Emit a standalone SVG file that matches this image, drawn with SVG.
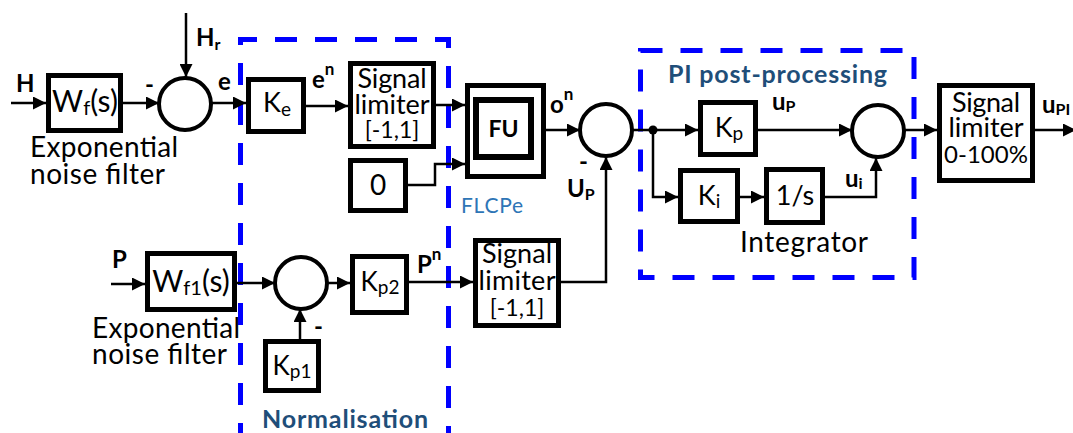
<svg xmlns="http://www.w3.org/2000/svg" width="1073" height="433" viewBox="0 0 1073 433">
<defs>
<marker id="ah" viewBox="0 0 10 10" refX="10" refY="5" markerWidth="13" markerHeight="13" markerUnits="userSpaceOnUse" orient="auto">
<path d="M0,0 L10,5 L0,10 z" fill="#000"/>
</marker>
<style>
.box{fill:#fff;stroke:#000;stroke-width:5}
.sum{fill:#fff;stroke:#000;stroke-width:4}
.ln{fill:none;stroke:#000;stroke-width:2.5}
.arr{marker-end:url(#ah)}
.dash{fill:none;stroke:#0000FF;stroke-width:5;stroke-dasharray:22 18}
text{font-family:Lato,"Open Sans","Liberation Sans",sans-serif;fill:#000}
.t{font-size:27px}
.x{font-size:28px}
.c{text-anchor:middle}
.b{font-weight:bold;font-size:24px}
.hd{font-weight:bold;font-size:25px;fill:#1F4E79}
</style>
</defs>
<rect width="1073" height="433" fill="#fff"/>

<g id="regions">
<path class="dash" d="M240.5,445 L240.5,39.5 L448.5,39.5 L448.5,445"/>
<rect class="dash" x="640.5" y="50.5" width="273.5" height="227"/>
</g>

<g id="connectors">
<path class="ln arr" d="M11,103 L46,103"/>
<path class="ln arr" d="M123,103 L159,103"/>
<path class="ln arr" d="M186,13 L186,77"/>
<path class="ln arr" d="M211,103 L246,103"/>
<path class="ln arr" d="M306,106 L348,106"/>
<path class="ln arr" d="M436,105 L465,105"/>
<path class="ln arr" d="M408,185 L435,185 L435,164 L465,164"/>
<path class="ln arr" d="M546,130 L580,130"/>
<path class="ln arr" d="M561,282 L606,282 L606,157"/>
<path class="ln arr" d="M632,130 L698,130"/>
<path class="ln arr" d="M653,130 L653,197 L678,197"/>
<path class="ln arr" d="M740,197 L764,197"/>
<path class="ln arr" d="M825,197 L876,197 L876,158"/>
<path class="ln arr" d="M758,130 L852,130"/>
<path class="ln arr" d="M904,130 L937,130"/>
<path class="ln arr" d="M1035,130 L1076,130"/>
<path class="ln arr" d="M111,284 L145,284"/>
<path class="ln arr" d="M237,283 L275,283"/>
<path class="ln arr" d="M326,283 L350,283"/>
<path class="ln arr" d="M300,339 L300,309"/>
<path class="ln arr" d="M409,282 L473,282"/>
<circle cx="653" cy="130" r="4.5" fill="#000"/>
</g>

<g id="labels">
<text class="b" x="16" y="92">H</text>
<text class="b" x="145" y="93">-</text>
<text class="b" x="196" y="46">H<tspan font-size="16" dy="4">r</tspan></text>
<text class="b" x="218" y="90">e</text>
<text class="b" x="312" y="88">e<tspan font-size="17" dy="-13">n</tspan></text>
<text class="b" x="550" y="113">o<tspan font-size="17" dy="-13">n</tspan></text>
<text class="b" x="579" y="170">-</text>
<text class="b" x="567" y="197">U<tspan font-size="16" dy="3">P</tspan></text>
<text x="461" y="213" font-size="21" style="fill:#2E75B6" textLength="62">FLCPe</text>
<text class="b" x="772" y="110">u<tspan font-size="16" dy="2">P</tspan></text>
<text class="b" x="845" y="187">u<tspan font-size="16" dy="2">i</tspan></text>
<text class="b" x="1042" y="113">u<tspan font-size="16" dy="2">PI</tspan></text>
<text class="b" x="112" y="268">P</text>
<text class="b" x="314" y="335">-</text>
<text class="b" x="417" y="273">P<tspan font-size="17" dy="-13">n</tspan></text>
<text class="x" x="30" y="157" textLength="148">Exponential</text>
<text class="x" x="30" y="184" textLength="135">noise filter</text>
<text class="x" x="92" y="338" textLength="148">Exponential</text>
<text class="x" x="92" y="364" textLength="135">noise filter</text>
<text class="x" x="740" y="252" textLength="128">Integrator</text>
<text class="hd" x="668" y="83" textLength="219">PI post-processing</text>
<text class="hd" x="262" y="428" textLength="166">Normalisation</text>
</g>

<g id="Wf">
<rect class="box" x="48.5" y="75.5" width="72" height="55"/>
<text class="c" x="85" y="112" font-size="30">W<tspan font-size="20" dy="3">f</tspan><tspan dy="-3">(s)</tspan></text>
</g>
<g id="sum1"><circle class="sum" cx="185" cy="104" r="26"/></g>
<g id="Ke">
<rect class="box" x="248.5" y="79.5" width="55" height="52"/>
<text class="c" x="277" y="112" font-size="27">K<tspan font-size="19" dy="4">e</tspan></text>
</g>
<g id="SL1">
<rect class="box" x="350.5" y="63.5" width="83" height="83"/>
<text class="t c" x="392" y="88" textLength="69">Signal</text>
<text class="t c" x="392" y="114" textLength="75">limiter</text>
<text class="c" x="392" y="138" font-size="23">[-1,1]</text>
</g>
<g id="Zero">
<rect class="box" x="350.5" y="160.5" width="55" height="50"/>
<text class="c" x="378" y="195" font-size="28">0</text>
</g>
<g id="FU">
<rect class="box" x="467.5" y="85.5" width="76" height="91"/>
<rect fill="#fff" stroke="#000" stroke-width="6" x="476" y="100" width="55" height="57"/>
<text class="c" x="503.5" y="137" font-size="23" font-weight="bold">FU</text>
</g>
<g id="sum2"><circle class="sum" cx="606" cy="130" r="26"/></g>
<g id="Kp">
<rect class="box" x="700.5" y="102.5" width="55" height="52"/>
<text class="c" x="729" y="137" font-size="27">K<tspan font-size="19" dy="3">p</tspan></text>
</g>
<g id="Ki">
<rect class="box" x="680.5" y="170.5" width="57" height="51"/>
<text class="c" x="709" y="205" font-size="27">K<tspan font-size="19" dy="3">i</tspan></text>
</g>
<g id="Integ">
<rect class="box" x="766.5" y="169.5" width="56" height="53"/>
<text class="c" x="795" y="205" font-size="27">1/s</text>
</g>
<g id="sum3"><circle class="sum" cx="878" cy="131" r="26"/></g>
<g id="SL2">
<rect class="box" x="939.5" y="85.5" width="93" height="95"/>
<text class="t c" x="986" y="112" textLength="68">Signal</text>
<text class="t c" x="986" y="137" textLength="75">limiter</text>
<text class="c" x="986" y="163" font-size="24">0-100%</text>
</g>
<g id="Wf1">
<rect class="box" x="147.5" y="253.5" width="87" height="56"/>
<text class="c" x="191" y="292" font-size="30">W<tspan font-size="20" dy="3">f1</tspan><tspan dy="-3">(s)</tspan></text>
</g>
<g id="sum4"><circle class="sum" cx="301" cy="283" r="26"/></g>
<g id="Kp1">
<rect class="box" x="265.5" y="341.5" width="53" height="49"/>
<text class="c" x="292" y="375" font-size="26">K<tspan font-size="19" dy="3">p1</tspan></text>
</g>
<g id="Kp2">
<rect class="box" x="352.5" y="256.5" width="54" height="56"/>
<text class="c" x="380" y="291" font-size="26">K<tspan font-size="19" dy="3">p2</tspan></text>
</g>
<g id="SL3">
<rect class="box" x="475.5" y="240.5" width="83" height="85"/>
<text class="t c" x="517" y="263" textLength="70">Signal</text>
<text class="t c" x="517" y="290" textLength="77">limiter</text>
<text class="c" x="517" y="316" font-size="23">[-1,1]</text>
</g>
</svg>
